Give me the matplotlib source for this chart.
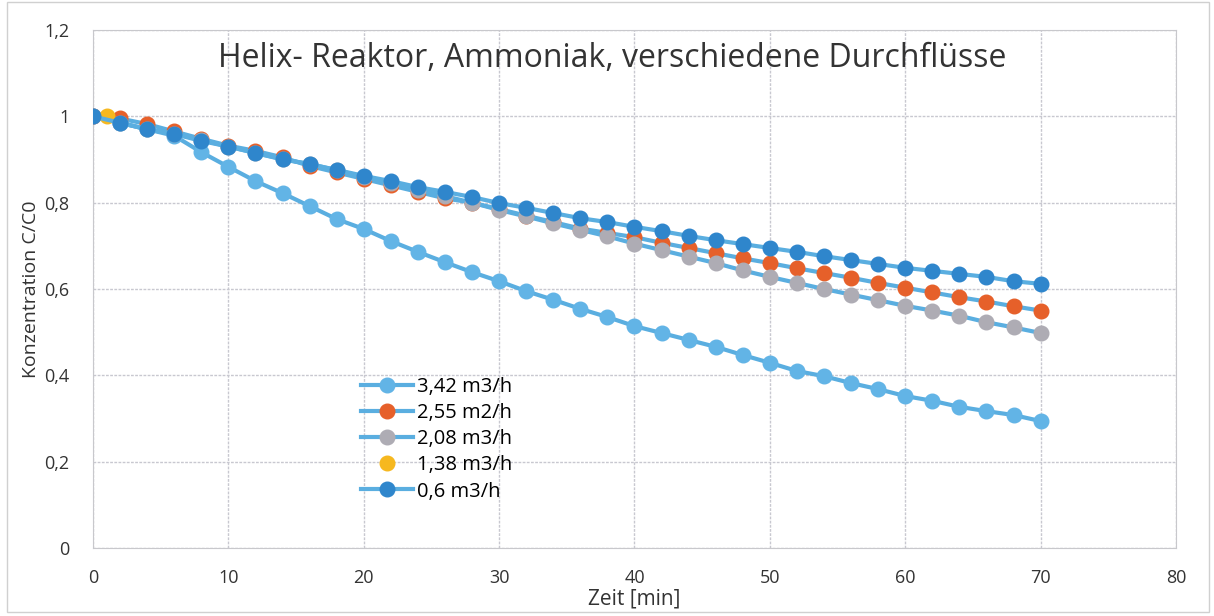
import matplotlib.pyplot as plt
from matplotlib.ticker import FuncFormatter

# Zeitpunkte der Messungen [min]
zeit = list(range(0, 71, 2))

# Konzentration C/C0 je Durchfluss
c_342 = [1.0, 0.985, 0.97, 0.955, 0.917, 0.883, 0.850, 0.822, 0.792, 0.762,
         0.739, 0.711, 0.686, 0.662, 0.639, 0.618, 0.595, 0.575, 0.554, 0.535,
         0.514, 0.498, 0.482, 0.466, 0.447, 0.429, 0.410, 0.398, 0.382, 0.368,
         0.352, 0.341, 0.327, 0.317, 0.308, 0.294]
c_255 = [1.0, 0.995, 0.982, 0.965, 0.948, 0.932, 0.920, 0.905, 0.885, 0.870,
         0.855, 0.840, 0.825, 0.810, 0.800, 0.785, 0.770, 0.755, 0.740, 0.730,
         0.720, 0.707, 0.695, 0.683, 0.671, 0.660, 0.648, 0.637, 0.626, 0.614,
         0.603, 0.592, 0.581, 0.571, 0.560, 0.550]
c_208 = [1.0, 0.985, 0.970, 0.960, 0.945, 0.930, 0.915, 0.900, 0.890, 0.875,
         0.860, 0.845, 0.830, 0.815, 0.800, 0.783, 0.768, 0.752, 0.737, 0.722,
         0.705, 0.690, 0.675, 0.660, 0.643, 0.628, 0.614, 0.600, 0.587, 0.574,
         0.561, 0.550, 0.538, 0.523, 0.511, 0.498]
zeit_138 = [1]
c_138 = [1.0]
c_06 = [1.0, 0.985, 0.970, 0.959, 0.943, 0.930, 0.915, 0.901, 0.889, 0.876,
        0.862, 0.850, 0.836, 0.825, 0.813, 0.799, 0.788, 0.776, 0.764, 0.755,
        0.744, 0.734, 0.723, 0.713, 0.704, 0.695, 0.686, 0.676, 0.667, 0.658,
        0.649, 0.642, 0.635, 0.628, 0.618, 0.612]

labels = ["3,42 m3/h", "2,55 m2/h", "2,08 m3/h", "1,38 m3/h", "0,6 m3/h"]
farben = ["#62b4e6", "#e6602a", "#aeacb4", "#f6b81f", "#2f86cc"]
linie = "#5aaee0"

plt.rcParams['font.family'] = ['Open Sans', 'DejaVu Sans']

fig = plt.figure(figsize=(12.14, 6.16), dpi=100)
ax = fig.add_axes([0.0766, 0.1104, 0.8921, 0.8409])

for x, y, lab, col in [(zeit, c_342, labels[0], farben[0]),
                       (zeit, c_255, labels[1], farben[1]),
                       (zeit, c_208, labels[2], farben[2])]:
    ax.plot(x, y, color=linie, lw=3, marker='o', ms=10.5,
            mfc=col, mec=col, label=lab, zorder=3)
ax.plot(zeit_138, c_138, ls='none', marker='o', ms=10.5,
        mfc=farben[3], mec=farben[3], label=labels[3], zorder=3)
ax.plot(zeit, c_06, color=linie, lw=3, marker='o', ms=10.5,
        mfc=farben[4], mec=farben[4], label=labels[4], zorder=4)

ax.set_xlim(0, 80)
ax.set_ylim(0, 1.2)
ax.set_xticks(range(0, 81, 10))
ax.set_yticks([0, 0.2, 0.4, 0.6, 0.8, 1.0, 1.2])
ax.yaxis.set_major_formatter(FuncFormatter(lambda v, p: f"{v:g}".replace(".", ",")))
ax.grid(True, color="#c8c8d0", lw=1, ls=(0, (2, 1)))
ax.set_axisbelow(True)
for s in ax.spines.values():
    s.set_color("#c8c8cc")
ax.tick_params(length=0, labelsize=13, colors="#333333")
ax.tick_params(axis='x', pad=15)
ax.tick_params(axis='y', pad=17)

ax.set_xlabel("Zeit [min]", fontsize=15, color="#333333", labelpad=1)
ax.set_ylabel("Konzentration C/C0", fontsize=14, color="#333333", labelpad=3)
ax.text(0.479, 0.945, "Helix- Reaktor, Ammoniak, verschiedene Durchflüsse",
        transform=ax.transAxes, ha='center', va='center', fontsize=23,
        color="#333333")

ax.legend(loc='upper left', bbox_to_anchor=(0.24, 0.345), frameon=False,
          fontsize=14.5, handlelength=2.6, handletextpad=0.2, labelspacing=0.3,
          borderaxespad=0)

fig.patches.append(plt.Rectangle((0.006, 0.006), 0.99, 0.99, transform=fig.transFigure,
                                 fill=False, ec="#d0d0d0", lw=1))

fig.savefig("out.png", dpi=100)
